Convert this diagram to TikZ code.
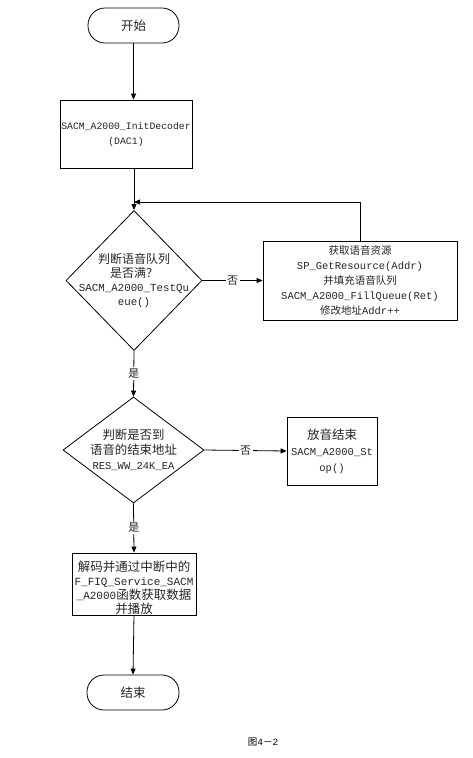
\documentclass[tikz,border=0pt]{standalone}
\usepackage{fontspec}
\setmainfont{Liberation Mono}
\newfontfamily\cjk{Noto Sans CJK SC}
\def\zs{12}
\newcommand\zh[1]{{\cjk\fontsize{\zs}{\zs}\selectfont #1}}
\newcommand\fs[3]{\fontsize{#1}{#2}\selectfont\def\zs{#3}}
\usetikzlibrary{shapes.geometric,arrows.meta}
\begin{document}
\begin{tikzpicture}[x=1pt,y=-1pt,line width=0.8pt,
  every node/.style={font=\fs{10.5}{15}{12},text=black!85,align=center},
  term/.style={draw,rounded corners=17pt,minimum width=91pt,minimum height=35pt,inner sep=0pt},
  proc/.style={draw,inner sep=0pt},
  dia/.style={draw,diamond,inner sep=0pt},
  arr/.style={-{Triangle[length=6pt,width=5pt]}},
  lab/.style={fill=white,inner sep=1.5pt,font=\fs{11}{11}{11}}]
\fill[white] (0,0) rectangle (473,758);
\useasboundingbox (0,0) rectangle (473,758);

\node[term,font=\fs{12}{12}{12.5}] (start) at (133.5,25.5) {\zh{开始}};
\node[proc,minimum width=132pt,minimum height=68pt,font=\fs{9.8}{15}{11}] (init) at (126,134)
  {SACM\_A2000\_InitDecoder\\(DAC1)};
\node[dia,minimum width=136pt,minimum height=140pt] (d1) at (134,280.5) {};
\node[font=\fs{10.8}{14}{12}] (d1t) at (d1.center)
  {\zh{判断语音队列}\\\zh{是否满？}\\SACM\_A2000\_TestQu\\eue()};
\node[proc,minimum width=194pt,minimum height=79pt,font=\fs{10.5}{15}{10.5}] (fill) at (360,280.5)
  {\zh{获取语音资源}\\SP\_GetResource(Addr)\\\zh{并填充语音队列}\\SACM\_A2000\_FillQueue(Ret)\\\zh{修改地址}Addr++};
\coordinate (fb) at (134,202);
\node[dia,minimum width=141pt,minimum height=106pt] (d2) at (133.5,450) {};
\node[font=\fs{10.5}{15}{12.4}] (d2t) at (d2.center)
  {\zh{判断是否到}\\\zh{语音的结束地址}\\RES\_WW\_24K\_EA};
\node[proc,minimum width=90pt,minimum height=68pt,font=\fs{10.5}{16}{12.5}] (stop) at (332,451)
  {\zh{放音结束}\\SACM\_A2000\_St\\op()};
\node[proc,minimum width=124pt,minimum height=62pt] (play) at (134,584) {};
\node[font=\fs{11}{14}{12.5}] (playt) at ([yshift=-4pt]play.center)
  {\zh{解码并通过中断中的}\\F\_FIQ\_Service\_SACM\\\_A2000\zh{函数获取数据}\\\zh{并播放}};
\node[term,minimum width=92pt,font=\fs{12}{12}{12.5}] (end) at (133,692.5) {\zh{结束}};
\node[text=black,font=\fs{9.5}{10}{9.5}] (cap) at (263,742) {\zh{图}4\zh{－}2};

\draw[arr] (start.south) -- (start.south |- init.north);
\draw[arr] (init.south -| d1.north) -- (d1.north);
\draw[arr] (fill.north) |- (fb);
\draw[arr] (d1.east) -- node[lab] {\zh{否}} (fill.west);
\draw[arr] (d1.south) -- node[lab] {\zh{是}} (d2.north);
\draw[arr] (d2.east) -- node[lab] {\zh{否}} (stop.west);
\draw[arr] (d2.south) -- node[lab] {\zh{是}} (play.north);
\draw[arr] (play.south) -- (end.north);
\end{tikzpicture}
\end{document}
